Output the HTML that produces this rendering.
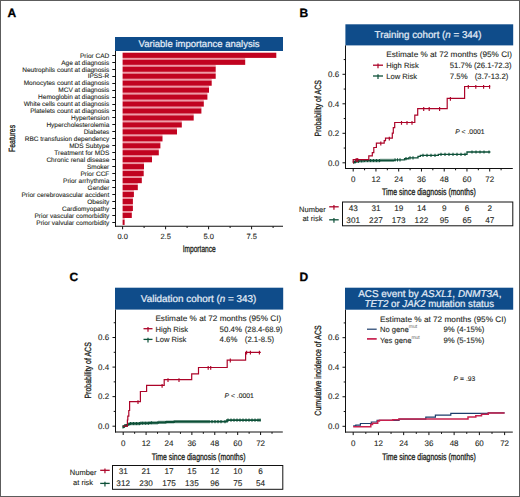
<!DOCTYPE html>
<html><head><meta charset="utf-8"><style>
html,body{margin:0;padding:0;background:#fff;}
body{width:520px;height:497px;overflow:hidden;}
svg{display:block;font-family:"Liberation Sans", sans-serif;text-rendering:geometricPrecision;}
</style></head><body>
<svg width="520" height="497" viewBox="0 0 520 497">
<rect x="0" y="0" width="520" height="497" fill="#fff"/>
<text x="7.50" y="17.10" font-size="12" text-anchor="start" fill="#000" font-weight="bold" stroke="#000" stroke-width="0.3">A</text>
<rect x="115.00" y="37.00" width="168.00" height="14.00" fill="#0f4c8a"/>
<text x="199.05" y="47.30" font-size="9.56" text-anchor="middle" fill="#e4edf8" font-weight="normal" textLength="121.00" lengthAdjust="spacingAndGlyphs" stroke="#e4edf8" stroke-width="0.22">Variable importance analysis</text>
<rect x="122.60" y="57.90" width="122.60" height="1.76" fill="#ef9aa6"/>
<rect x="122.60" y="64.86" width="93.10" height="1.76" fill="#ef9aa6"/>
<rect x="122.60" y="71.82" width="93.10" height="1.76" fill="#ef9aa6"/>
<rect x="122.60" y="78.78" width="89.10" height="1.76" fill="#ef9aa6"/>
<rect x="122.60" y="85.74" width="86.40" height="1.76" fill="#ef9aa6"/>
<rect x="122.60" y="92.70" width="84.80" height="1.76" fill="#ef9aa6"/>
<rect x="122.60" y="99.66" width="81.20" height="1.76" fill="#ef9aa6"/>
<rect x="122.60" y="106.62" width="78.80" height="1.76" fill="#ef9aa6"/>
<rect x="122.60" y="113.58" width="71.10" height="1.76" fill="#ef9aa6"/>
<rect x="122.60" y="120.54" width="59.20" height="1.76" fill="#ef9aa6"/>
<rect x="122.60" y="127.50" width="54.40" height="1.76" fill="#ef9aa6"/>
<rect x="122.60" y="134.46" width="39.90" height="1.76" fill="#ef9aa6"/>
<rect x="122.60" y="141.42" width="37.80" height="1.76" fill="#ef9aa6"/>
<rect x="122.60" y="148.38" width="36.20" height="1.76" fill="#ef9aa6"/>
<rect x="122.60" y="155.34" width="29.40" height="1.76" fill="#ef9aa6"/>
<rect x="122.60" y="162.30" width="21.40" height="1.76" fill="#ef9aa6"/>
<rect x="122.60" y="169.26" width="21.10" height="1.76" fill="#ef9aa6"/>
<rect x="122.60" y="176.22" width="19.20" height="1.76" fill="#ef9aa6"/>
<rect x="122.60" y="183.18" width="15.20" height="1.76" fill="#ef9aa6"/>
<rect x="122.60" y="190.14" width="11.30" height="1.76" fill="#ef9aa6"/>
<rect x="122.60" y="197.10" width="10.30" height="1.76" fill="#ef9aa6"/>
<rect x="122.60" y="204.06" width="10.30" height="1.76" fill="#ef9aa6"/>
<rect x="122.60" y="211.02" width="9.20" height="1.76" fill="#ef9aa6"/>
<rect x="122.60" y="217.98" width="2.00" height="1.76" fill="#ef9aa6"/>
<rect x="122.60" y="52.70" width="153.70" height="5.20" fill="#c10320"/>
<line x1="112.30" y1="55.50" x2="115.50" y2="55.50" stroke="#111" stroke-width="1.0"/>
<text x="109.30" y="57.60" font-size="6.5" text-anchor="end" fill="#231f20" font-weight="normal" stroke="#231f20" stroke-width="0.1" >Prior CAD</text>
<rect x="122.60" y="59.66" width="122.60" height="5.20" fill="#c10320"/>
<line x1="112.30" y1="62.50" x2="115.50" y2="62.50" stroke="#111" stroke-width="1.0"/>
<text x="109.30" y="64.56" font-size="6.5" text-anchor="end" fill="#231f20" font-weight="normal" stroke="#231f20" stroke-width="0.1" >Age at diagnosis</text>
<rect x="122.60" y="66.62" width="93.10" height="5.20" fill="#c10320"/>
<line x1="112.30" y1="69.50" x2="115.50" y2="69.50" stroke="#111" stroke-width="1.0"/>
<text x="109.30" y="71.52" font-size="6.5" text-anchor="end" fill="#231f20" font-weight="normal" stroke="#231f20" stroke-width="0.1" >Neutrophils count at diagnosis</text>
<rect x="122.60" y="73.58" width="93.10" height="5.20" fill="#c10320"/>
<line x1="112.30" y1="76.50" x2="115.50" y2="76.50" stroke="#111" stroke-width="1.0"/>
<text x="109.30" y="78.48" font-size="6.5" text-anchor="end" fill="#231f20" font-weight="normal" stroke="#231f20" stroke-width="0.1" >IPSS-R</text>
<rect x="122.60" y="80.54" width="89.10" height="5.20" fill="#c10320"/>
<line x1="112.30" y1="83.50" x2="115.50" y2="83.50" stroke="#111" stroke-width="1.0"/>
<text x="109.30" y="85.44" font-size="6.5" text-anchor="end" fill="#231f20" font-weight="normal" stroke="#231f20" stroke-width="0.1" >Monocytes count at diagnosis</text>
<rect x="122.60" y="87.50" width="86.40" height="5.20" fill="#c10320"/>
<line x1="112.30" y1="90.50" x2="115.50" y2="90.50" stroke="#111" stroke-width="1.0"/>
<text x="109.30" y="92.40" font-size="6.5" text-anchor="end" fill="#231f20" font-weight="normal" stroke="#231f20" stroke-width="0.1" >MCV at diagnosis</text>
<rect x="122.60" y="94.46" width="84.80" height="5.20" fill="#c10320"/>
<line x1="112.30" y1="97.50" x2="115.50" y2="97.50" stroke="#111" stroke-width="1.0"/>
<text x="109.30" y="99.36" font-size="6.5" text-anchor="end" fill="#231f20" font-weight="normal" stroke="#231f20" stroke-width="0.1" >Hemoglobin at diagnosis</text>
<rect x="122.60" y="101.42" width="81.20" height="5.20" fill="#c10320"/>
<line x1="112.30" y1="104.50" x2="115.50" y2="104.50" stroke="#111" stroke-width="1.0"/>
<text x="109.30" y="106.32" font-size="6.5" text-anchor="end" fill="#231f20" font-weight="normal" stroke="#231f20" stroke-width="0.1" >White cells count at diagnosis</text>
<rect x="122.60" y="108.38" width="78.80" height="5.20" fill="#c10320"/>
<line x1="112.30" y1="110.50" x2="115.50" y2="110.50" stroke="#111" stroke-width="1.0"/>
<text x="109.30" y="113.28" font-size="6.5" text-anchor="end" fill="#231f20" font-weight="normal" stroke="#231f20" stroke-width="0.1" >Platelets count at diagnosis</text>
<rect x="122.60" y="115.34" width="71.10" height="5.20" fill="#c10320"/>
<line x1="112.30" y1="117.50" x2="115.50" y2="117.50" stroke="#111" stroke-width="1.0"/>
<text x="109.30" y="120.24" font-size="6.5" text-anchor="end" fill="#231f20" font-weight="normal" stroke="#231f20" stroke-width="0.1" >Hypertension</text>
<rect x="122.60" y="122.30" width="59.20" height="5.20" fill="#c10320"/>
<line x1="112.30" y1="124.50" x2="115.50" y2="124.50" stroke="#111" stroke-width="1.0"/>
<text x="109.30" y="127.20" font-size="6.5" text-anchor="end" fill="#231f20" font-weight="normal" stroke="#231f20" stroke-width="0.1" >Hypercholesterolemia</text>
<rect x="122.60" y="129.26" width="54.40" height="5.20" fill="#c10320"/>
<line x1="112.30" y1="131.50" x2="115.50" y2="131.50" stroke="#111" stroke-width="1.0"/>
<text x="109.30" y="134.16" font-size="6.5" text-anchor="end" fill="#231f20" font-weight="normal" stroke="#231f20" stroke-width="0.1" >Diabetes</text>
<rect x="122.60" y="136.22" width="39.90" height="5.20" fill="#c10320"/>
<line x1="112.30" y1="138.50" x2="115.50" y2="138.50" stroke="#111" stroke-width="1.0"/>
<text x="109.30" y="141.12" font-size="6.5" text-anchor="end" fill="#231f20" font-weight="normal" stroke="#231f20" stroke-width="0.1" >RBC transfusion dependency</text>
<rect x="122.60" y="143.18" width="37.80" height="5.20" fill="#c10320"/>
<line x1="112.30" y1="145.50" x2="115.50" y2="145.50" stroke="#111" stroke-width="1.0"/>
<text x="109.30" y="148.08" font-size="6.5" text-anchor="end" fill="#231f20" font-weight="normal" stroke="#231f20" stroke-width="0.1" >MDS Subtype</text>
<rect x="122.60" y="150.14" width="36.20" height="5.20" fill="#c10320"/>
<line x1="112.30" y1="152.50" x2="115.50" y2="152.50" stroke="#111" stroke-width="1.0"/>
<text x="109.30" y="155.04" font-size="6.5" text-anchor="end" fill="#231f20" font-weight="normal" stroke="#231f20" stroke-width="0.1" >Treatment for MDS</text>
<rect x="122.60" y="157.10" width="29.40" height="5.20" fill="#c10320"/>
<line x1="112.30" y1="159.50" x2="115.50" y2="159.50" stroke="#111" stroke-width="1.0"/>
<text x="109.30" y="162.00" font-size="6.5" text-anchor="end" fill="#231f20" font-weight="normal" stroke="#231f20" stroke-width="0.1" >Chronic renal disease</text>
<rect x="122.60" y="164.06" width="21.40" height="5.20" fill="#c10320"/>
<line x1="112.30" y1="166.50" x2="115.50" y2="166.50" stroke="#111" stroke-width="1.0"/>
<text x="109.30" y="168.96" font-size="6.5" text-anchor="end" fill="#231f20" font-weight="normal" stroke="#231f20" stroke-width="0.1" >Smoker</text>
<rect x="122.60" y="171.02" width="21.10" height="5.20" fill="#c10320"/>
<line x1="112.30" y1="173.50" x2="115.50" y2="173.50" stroke="#111" stroke-width="1.0"/>
<text x="109.30" y="175.92" font-size="6.5" text-anchor="end" fill="#231f20" font-weight="normal" stroke="#231f20" stroke-width="0.1" >Prior CCF</text>
<rect x="122.60" y="177.98" width="19.20" height="5.20" fill="#c10320"/>
<line x1="112.30" y1="180.50" x2="115.50" y2="180.50" stroke="#111" stroke-width="1.0"/>
<text x="109.30" y="182.88" font-size="6.5" text-anchor="end" fill="#231f20" font-weight="normal" stroke="#231f20" stroke-width="0.1" >Prior arrhythmia</text>
<rect x="122.60" y="184.94" width="15.20" height="5.20" fill="#c10320"/>
<line x1="112.30" y1="187.50" x2="115.50" y2="187.50" stroke="#111" stroke-width="1.0"/>
<text x="109.30" y="189.84" font-size="6.5" text-anchor="end" fill="#231f20" font-weight="normal" stroke="#231f20" stroke-width="0.1" >Gender</text>
<rect x="122.60" y="191.90" width="11.30" height="5.20" fill="#c10320"/>
<line x1="112.30" y1="194.50" x2="115.50" y2="194.50" stroke="#111" stroke-width="1.0"/>
<text x="109.30" y="196.80" font-size="6.5" text-anchor="end" fill="#231f20" font-weight="normal" stroke="#231f20" stroke-width="0.1" >Prior cerebrovascular accident</text>
<rect x="122.60" y="198.86" width="10.30" height="5.20" fill="#c10320"/>
<line x1="112.30" y1="201.50" x2="115.50" y2="201.50" stroke="#111" stroke-width="1.0"/>
<text x="109.30" y="203.76" font-size="6.5" text-anchor="end" fill="#231f20" font-weight="normal" stroke="#231f20" stroke-width="0.1" >Obesity</text>
<rect x="122.60" y="205.82" width="10.30" height="5.20" fill="#c10320"/>
<line x1="112.30" y1="208.50" x2="115.50" y2="208.50" stroke="#111" stroke-width="1.0"/>
<text x="109.30" y="210.72" font-size="6.5" text-anchor="end" fill="#231f20" font-weight="normal" stroke="#231f20" stroke-width="0.1" >Cardiomyopathy</text>
<rect x="122.60" y="212.78" width="9.20" height="5.20" fill="#c10320"/>
<line x1="112.30" y1="215.50" x2="115.50" y2="215.50" stroke="#111" stroke-width="1.0"/>
<text x="109.30" y="217.68" font-size="6.5" text-anchor="end" fill="#231f20" font-weight="normal" stroke="#231f20" stroke-width="0.1" >Prior vascular comorbidity</text>
<rect x="122.60" y="219.74" width="2.00" height="5.20" fill="#c10320"/>
<line x1="112.30" y1="222.50" x2="115.50" y2="222.50" stroke="#111" stroke-width="1.0"/>
<text x="109.30" y="224.64" font-size="6.5" text-anchor="end" fill="#231f20" font-weight="normal" stroke="#231f20" stroke-width="0.1" >Prior valvular comorbidity</text>
<line x1="115.50" y1="51.00" x2="115.50" y2="226.80" stroke="#111" stroke-width="1.0"/>
<line x1="115.00" y1="226.30" x2="283.00" y2="226.30" stroke="#111" stroke-width="1.05"/>
<line x1="122.60" y1="226.30" x2="122.60" y2="229.30" stroke="#111" stroke-width="1.0"/>
<text x="122.60" y="238.70" font-size="7.5" text-anchor="middle" fill="#231f20" font-weight="normal" stroke="#231f20" stroke-width="0.1" >0.0</text>
<line x1="165.60" y1="226.30" x2="165.60" y2="229.30" stroke="#111" stroke-width="1.0"/>
<text x="165.60" y="238.70" font-size="7.5" text-anchor="middle" fill="#231f20" font-weight="normal" stroke="#231f20" stroke-width="0.1" >2.5</text>
<line x1="208.60" y1="226.30" x2="208.60" y2="229.30" stroke="#111" stroke-width="1.0"/>
<text x="208.60" y="238.70" font-size="7.5" text-anchor="middle" fill="#231f20" font-weight="normal" stroke="#231f20" stroke-width="0.1" >5.0</text>
<line x1="251.60" y1="226.30" x2="251.60" y2="229.30" stroke="#111" stroke-width="1.0"/>
<text x="251.60" y="238.70" font-size="7.5" text-anchor="middle" fill="#231f20" font-weight="normal" stroke="#231f20" stroke-width="0.1" >7.5</text>
<line x1="144.10" y1="226.30" x2="144.10" y2="228.00" stroke="#111" stroke-width="1.0"/>
<line x1="187.10" y1="226.30" x2="187.10" y2="228.00" stroke="#111" stroke-width="1.0"/>
<line x1="230.10" y1="226.30" x2="230.10" y2="228.00" stroke="#111" stroke-width="1.0"/>
<line x1="273.10" y1="226.30" x2="273.10" y2="228.00" stroke="#111" stroke-width="1.0"/>
<text transform="translate(199.20,251.70) scale(0.69,1)" font-size="9.6" text-anchor="middle" fill="#231f20" stroke="#231f20" stroke-width="0.32">Importance</text>
<text transform="translate(15.30,138.40) rotate(-90) scale(0.76,1)" font-size="9.0" text-anchor="middle" fill="#231f20" stroke="#231f20" stroke-width="0.32">Features</text>
<text x="299.60" y="17.10" font-size="12" text-anchor="start" fill="#000" font-weight="bold" stroke="#000" stroke-width="0.3">B</text>
<rect x="345.40" y="24.30" width="167.80" height="21.10" fill="#0f4c8a"/>
<line x1="345.50" y1="45.40" x2="345.50" y2="169.00" stroke="#111" stroke-width="1.0"/>
<line x1="345.00" y1="168.50" x2="512.80" y2="168.50" stroke="#111" stroke-width="1.0"/>
<line x1="342.50" y1="162.80" x2="345.50" y2="162.80" stroke="#111" stroke-width="1.0"/>
<text x="339.20" y="165.50" font-size="8.0" text-anchor="end" fill="#231f20" font-weight="normal" stroke="#231f20" stroke-width="0.1" >0.0</text>
<line x1="342.50" y1="133.30" x2="345.50" y2="133.30" stroke="#111" stroke-width="1.0"/>
<text x="339.20" y="136.00" font-size="8.0" text-anchor="end" fill="#231f20" font-weight="normal" stroke="#231f20" stroke-width="0.1" >0.2</text>
<line x1="342.50" y1="103.80" x2="345.50" y2="103.80" stroke="#111" stroke-width="1.0"/>
<text x="339.20" y="106.50" font-size="8.0" text-anchor="end" fill="#231f20" font-weight="normal" stroke="#231f20" stroke-width="0.1" >0.4</text>
<line x1="342.50" y1="74.30" x2="345.50" y2="74.30" stroke="#111" stroke-width="1.0"/>
<text x="339.20" y="77.00" font-size="8.0" text-anchor="end" fill="#231f20" font-weight="normal" stroke="#231f20" stroke-width="0.1" >0.6</text>
<line x1="343.70" y1="148.05" x2="345.50" y2="148.05" stroke="#111" stroke-width="1.0"/>
<line x1="343.70" y1="118.55" x2="345.50" y2="118.55" stroke="#111" stroke-width="1.0"/>
<line x1="343.70" y1="89.05" x2="345.50" y2="89.05" stroke="#111" stroke-width="1.0"/>
<line x1="343.70" y1="59.55" x2="345.50" y2="59.55" stroke="#111" stroke-width="1.0"/>
<line x1="353.20" y1="168.50" x2="353.20" y2="171.50" stroke="#111" stroke-width="1.0"/>
<text x="353.20" y="182.30" font-size="8.0" text-anchor="middle" fill="#231f20" font-weight="normal" stroke="#231f20" stroke-width="0.1" >0</text>
<line x1="375.95" y1="168.50" x2="375.95" y2="171.50" stroke="#111" stroke-width="1.0"/>
<text x="375.95" y="182.30" font-size="8.0" text-anchor="middle" fill="#231f20" font-weight="normal" stroke="#231f20" stroke-width="0.1" >12</text>
<line x1="398.70" y1="168.50" x2="398.70" y2="171.50" stroke="#111" stroke-width="1.0"/>
<text x="398.70" y="182.30" font-size="8.0" text-anchor="middle" fill="#231f20" font-weight="normal" stroke="#231f20" stroke-width="0.1" >24</text>
<line x1="421.46" y1="168.50" x2="421.46" y2="171.50" stroke="#111" stroke-width="1.0"/>
<text x="421.46" y="182.30" font-size="8.0" text-anchor="middle" fill="#231f20" font-weight="normal" stroke="#231f20" stroke-width="0.1" >36</text>
<line x1="444.21" y1="168.50" x2="444.21" y2="171.50" stroke="#111" stroke-width="1.0"/>
<text x="444.21" y="182.30" font-size="8.0" text-anchor="middle" fill="#231f20" font-weight="normal" stroke="#231f20" stroke-width="0.1" >48</text>
<line x1="466.96" y1="168.50" x2="466.96" y2="171.50" stroke="#111" stroke-width="1.0"/>
<text x="466.96" y="182.30" font-size="8.0" text-anchor="middle" fill="#231f20" font-weight="normal" stroke="#231f20" stroke-width="0.1" >60</text>
<line x1="489.71" y1="168.50" x2="489.71" y2="171.50" stroke="#111" stroke-width="1.0"/>
<text x="489.71" y="182.30" font-size="8.0" text-anchor="middle" fill="#231f20" font-weight="normal" stroke="#231f20" stroke-width="0.1" >72</text>
<line x1="364.58" y1="168.50" x2="364.58" y2="170.30" stroke="#111" stroke-width="1.0"/>
<line x1="387.33" y1="168.50" x2="387.33" y2="170.30" stroke="#111" stroke-width="1.0"/>
<line x1="410.08" y1="168.50" x2="410.08" y2="170.30" stroke="#111" stroke-width="1.0"/>
<line x1="432.83" y1="168.50" x2="432.83" y2="170.30" stroke="#111" stroke-width="1.0"/>
<line x1="455.58" y1="168.50" x2="455.58" y2="170.30" stroke="#111" stroke-width="1.0"/>
<line x1="478.34" y1="168.50" x2="478.34" y2="170.30" stroke="#111" stroke-width="1.0"/>
<line x1="501.09" y1="168.50" x2="501.09" y2="170.30" stroke="#111" stroke-width="1.0"/>
<text transform="translate(320.80,108.30) rotate(-90) scale(0.778,1)" font-size="9.0" text-anchor="middle" fill="#231f20" stroke="#231f20" stroke-width="0.32">Probability of ACS</text>
<text transform="translate(428.90,195.40) scale(0.722,1)" font-size="9.6" text-anchor="middle" fill="#231f20" stroke="#231f20" stroke-width="0.32">Time since diagnosis (months)</text>
<text x="428.00" y="38.30" font-size="9.9" text-anchor="middle" fill="#e4edf8" font-weight="normal" textLength="106.90" lengthAdjust="spacingAndGlyphs" stroke="#e4edf8" stroke-width="0.22">Training cohort (<tspan font-style="italic">n</tspan> = 344)</text>
<text x="386.30" y="57.00" font-size="8.0" text-anchor="start" fill="#231f20" font-weight="normal" stroke="#231f20" stroke-width="0.1" textLength="125.80" lengthAdjust="spacingAndGlyphs" >Estimate % at 72 months (95% CI)</text>
<text x="386.20" y="68.30" font-size="7.6" text-anchor="start" fill="#231f20" font-weight="normal" stroke="#231f20" stroke-width="0.1" >High Risk</text>
<text x="449.80" y="68.30" font-size="7.8" text-anchor="start" fill="#231f20" font-weight="normal" stroke="#231f20" stroke-width="0.1" textLength="22.00" lengthAdjust="spacingAndGlyphs" >51.7%</text>
<text x="474.00" y="68.30" font-size="7.8" text-anchor="start" fill="#231f20" font-weight="normal" stroke="#231f20" stroke-width="0.1" textLength="37.60" lengthAdjust="spacingAndGlyphs" >(26.1-72.3)</text>
<text x="386.20" y="78.80" font-size="7.6" text-anchor="start" fill="#231f20" font-weight="normal" stroke="#231f20" stroke-width="0.1" >Low Risk</text>
<text x="449.80" y="78.80" font-size="7.8" text-anchor="start" fill="#231f20" font-weight="normal" stroke="#231f20" stroke-width="0.1" >7.5%</text>
<text x="474.80" y="78.80" font-size="7.8" text-anchor="start" fill="#231f20" font-weight="normal" stroke="#231f20" stroke-width="0.1" textLength="33.50" lengthAdjust="spacingAndGlyphs" >(3.7-13.2)</text>
<line x1="373.00" y1="65.20" x2="383.00" y2="65.20" stroke="#ac0429" stroke-width="1.3"/>
<line x1="378.00" y1="63.50" x2="378.00" y2="68.20" stroke="#ac0429" stroke-width="1.2"/>
<line x1="373.00" y1="76.00" x2="383.00" y2="76.00" stroke="#0d5038" stroke-width="1.3"/>
<line x1="378.00" y1="74.30" x2="378.00" y2="79.00" stroke="#0d5038" stroke-width="1.2"/>
<text x="455.20" y="133.60" font-size="6.8" text-anchor="start" fill="#231f20" font-weight="normal" stroke="#231f20" stroke-width="0.1" ><tspan font-style="italic">P</tspan> &lt; .0001</text>
<path d="M353.00,162.60 H353.40 V162.20 H354.50 V161.70 H356.00 V161.30 H359.00 V160.90 H364.00 V160.60 H380.00 V160.30 H395.00 V159.90 H404.60 V158.70 H408.50 V157.90 H418.00 V156.30 H420.40 V155.40 H438.30 V154.40 H467.00 V152.00 H490.40" fill="none" stroke="#0d5038" stroke-width="1.35" stroke-linejoin="miter"/>
<line x1="354.00" y1="160.60" x2="354.00" y2="163.80" stroke="#0d5038" stroke-width="1.1"/>
<line x1="355.50" y1="160.10" x2="355.50" y2="163.30" stroke="#0d5038" stroke-width="1.1"/>
<line x1="357.00" y1="159.70" x2="357.00" y2="162.90" stroke="#0d5038" stroke-width="1.1"/>
<line x1="358.50" y1="159.70" x2="358.50" y2="162.90" stroke="#0d5038" stroke-width="1.1"/>
<line x1="360.00" y1="159.30" x2="360.00" y2="162.50" stroke="#0d5038" stroke-width="1.1"/>
<line x1="361.50" y1="159.30" x2="361.50" y2="162.50" stroke="#0d5038" stroke-width="1.1"/>
<line x1="363.00" y1="159.30" x2="363.00" y2="162.50" stroke="#0d5038" stroke-width="1.1"/>
<line x1="364.50" y1="159.00" x2="364.50" y2="162.20" stroke="#0d5038" stroke-width="1.1"/>
<line x1="366.00" y1="159.00" x2="366.00" y2="162.20" stroke="#0d5038" stroke-width="1.1"/>
<line x1="367.50" y1="159.00" x2="367.50" y2="162.20" stroke="#0d5038" stroke-width="1.1"/>
<line x1="369.00" y1="159.00" x2="369.00" y2="162.20" stroke="#0d5038" stroke-width="1.1"/>
<line x1="370.50" y1="159.00" x2="370.50" y2="162.20" stroke="#0d5038" stroke-width="1.1"/>
<line x1="372.00" y1="159.00" x2="372.00" y2="162.20" stroke="#0d5038" stroke-width="1.1"/>
<line x1="373.50" y1="159.00" x2="373.50" y2="162.20" stroke="#0d5038" stroke-width="1.1"/>
<line x1="375.00" y1="159.00" x2="375.00" y2="162.20" stroke="#0d5038" stroke-width="1.1"/>
<line x1="376.50" y1="159.00" x2="376.50" y2="162.20" stroke="#0d5038" stroke-width="1.1"/>
<line x1="378.00" y1="159.00" x2="378.00" y2="162.20" stroke="#0d5038" stroke-width="1.1"/>
<line x1="379.50" y1="159.00" x2="379.50" y2="162.20" stroke="#0d5038" stroke-width="1.1"/>
<line x1="381.00" y1="158.70" x2="381.00" y2="161.90" stroke="#0d5038" stroke-width="1.1"/>
<line x1="383.00" y1="158.70" x2="383.00" y2="161.90" stroke="#0d5038" stroke-width="1.1"/>
<line x1="385.00" y1="158.70" x2="385.00" y2="161.90" stroke="#0d5038" stroke-width="1.1"/>
<line x1="387.00" y1="158.70" x2="387.00" y2="161.90" stroke="#0d5038" stroke-width="1.1"/>
<line x1="389.00" y1="158.70" x2="389.00" y2="161.90" stroke="#0d5038" stroke-width="1.1"/>
<line x1="391.00" y1="158.70" x2="391.00" y2="161.90" stroke="#0d5038" stroke-width="1.1"/>
<line x1="393.00" y1="158.70" x2="393.00" y2="161.90" stroke="#0d5038" stroke-width="1.1"/>
<line x1="395.00" y1="158.30" x2="395.00" y2="161.50" stroke="#0d5038" stroke-width="1.1"/>
<line x1="397.50" y1="158.30" x2="397.50" y2="161.50" stroke="#0d5038" stroke-width="1.1"/>
<line x1="400.00" y1="158.30" x2="400.00" y2="161.50" stroke="#0d5038" stroke-width="1.1"/>
<line x1="406.00" y1="157.10" x2="406.00" y2="160.30" stroke="#0d5038" stroke-width="1.1"/>
<line x1="410.00" y1="156.30" x2="410.00" y2="159.50" stroke="#0d5038" stroke-width="1.1"/>
<line x1="413.00" y1="156.30" x2="413.00" y2="159.50" stroke="#0d5038" stroke-width="1.1"/>
<line x1="423.00" y1="153.80" x2="423.00" y2="157.00" stroke="#0d5038" stroke-width="1.1"/>
<line x1="427.00" y1="153.80" x2="427.00" y2="157.00" stroke="#0d5038" stroke-width="1.1"/>
<line x1="431.00" y1="153.80" x2="431.00" y2="157.00" stroke="#0d5038" stroke-width="1.1"/>
<line x1="435.00" y1="153.80" x2="435.00" y2="157.00" stroke="#0d5038" stroke-width="1.1"/>
<line x1="441.00" y1="152.80" x2="441.00" y2="156.00" stroke="#0d5038" stroke-width="1.1"/>
<line x1="445.00" y1="152.80" x2="445.00" y2="156.00" stroke="#0d5038" stroke-width="1.1"/>
<line x1="449.00" y1="152.80" x2="449.00" y2="156.00" stroke="#0d5038" stroke-width="1.1"/>
<line x1="453.00" y1="152.80" x2="453.00" y2="156.00" stroke="#0d5038" stroke-width="1.1"/>
<line x1="457.00" y1="152.80" x2="457.00" y2="156.00" stroke="#0d5038" stroke-width="1.1"/>
<line x1="461.00" y1="152.80" x2="461.00" y2="156.00" stroke="#0d5038" stroke-width="1.1"/>
<line x1="465.00" y1="152.80" x2="465.00" y2="156.00" stroke="#0d5038" stroke-width="1.1"/>
<line x1="472.00" y1="150.40" x2="472.00" y2="153.60" stroke="#0d5038" stroke-width="1.1"/>
<line x1="476.00" y1="150.40" x2="476.00" y2="153.60" stroke="#0d5038" stroke-width="1.1"/>
<line x1="480.00" y1="150.40" x2="480.00" y2="153.60" stroke="#0d5038" stroke-width="1.1"/>
<line x1="484.00" y1="150.40" x2="484.00" y2="153.60" stroke="#0d5038" stroke-width="1.1"/>
<line x1="489.00" y1="150.40" x2="489.00" y2="153.60" stroke="#0d5038" stroke-width="1.1"/>
<path d="M353.00,162.80 H353.20 V159.60 H368.80 V155.80 H372.30 V152.60 H373.80 V147.50 H376.40 V143.10 H384.20 V140.60 H385.50 V138.20 H392.30 V133.10 H393.30 V127.70 H394.70 V122.50 H414.80 V115.20 H417.70 V108.60 H447.20 V98.40 H464.60 V86.50 H490.20" fill="none" stroke="#ac0429" stroke-width="1.2" stroke-linejoin="miter"/>
<line x1="356.20" y1="158.10" x2="356.20" y2="161.90" stroke="#ac0429" stroke-width="1.15"/>
<line x1="357.70" y1="158.10" x2="357.70" y2="161.90" stroke="#ac0429" stroke-width="1.15"/>
<line x1="380.80" y1="141.60" x2="380.80" y2="145.40" stroke="#ac0429" stroke-width="1.15"/>
<line x1="389.30" y1="136.70" x2="389.30" y2="140.50" stroke="#ac0429" stroke-width="1.15"/>
<line x1="401.50" y1="121.00" x2="401.50" y2="124.80" stroke="#ac0429" stroke-width="1.15"/>
<line x1="407.00" y1="121.00" x2="407.00" y2="124.80" stroke="#ac0429" stroke-width="1.15"/>
<line x1="412.00" y1="121.00" x2="412.00" y2="124.80" stroke="#ac0429" stroke-width="1.15"/>
<line x1="423.70" y1="107.10" x2="423.70" y2="110.90" stroke="#ac0429" stroke-width="1.15"/>
<line x1="429.20" y1="107.10" x2="429.20" y2="110.90" stroke="#ac0429" stroke-width="1.15"/>
<line x1="439.60" y1="107.10" x2="439.60" y2="110.90" stroke="#ac0429" stroke-width="1.15"/>
<line x1="450.40" y1="96.90" x2="450.40" y2="100.70" stroke="#ac0429" stroke-width="1.15"/>
<line x1="468.30" y1="85.00" x2="468.30" y2="88.80" stroke="#ac0429" stroke-width="1.15"/>
<line x1="475.80" y1="85.00" x2="475.80" y2="88.80" stroke="#ac0429" stroke-width="1.15"/>
<line x1="483.60" y1="85.00" x2="483.60" y2="88.80" stroke="#ac0429" stroke-width="1.15"/>
<line x1="489.60" y1="85.00" x2="489.60" y2="88.80" stroke="#ac0429" stroke-width="1.15"/>
<rect x="342.5" y="202.0" width="170.3" height="23.8" fill="none" stroke="#111" stroke-width="1"/>
<text x="325.80" y="211.80" font-size="7.5" text-anchor="end" fill="#231f20" font-weight="normal" stroke="#231f20" stroke-width="0.1" >Number</text>
<text x="322.40" y="221.30" font-size="7.5" text-anchor="end" fill="#231f20" font-weight="normal" stroke="#231f20" stroke-width="0.1" >at risk</text>
<line x1="329.20" y1="206.80" x2="338.70" y2="206.80" stroke="#ac0429" stroke-width="1.3"/>
<line x1="333.95" y1="205.10" x2="333.95" y2="209.80" stroke="#ac0429" stroke-width="1.2"/>
<line x1="329.20" y1="219.80" x2="338.70" y2="219.80" stroke="#0d5038" stroke-width="1.3"/>
<line x1="333.95" y1="218.10" x2="333.95" y2="222.80" stroke="#0d5038" stroke-width="1.2"/>
<text x="353.20" y="211.00" font-size="8.2" text-anchor="middle" fill="#231f20" font-weight="normal" stroke="#231f20" stroke-width="0.1" >43</text>
<text x="353.20" y="223.30" font-size="8.2" text-anchor="middle" fill="#231f20" font-weight="normal" stroke="#231f20" stroke-width="0.1" >301</text>
<text x="375.95" y="211.00" font-size="8.2" text-anchor="middle" fill="#231f20" font-weight="normal" stroke="#231f20" stroke-width="0.1" >31</text>
<text x="375.95" y="223.30" font-size="8.2" text-anchor="middle" fill="#231f20" font-weight="normal" stroke="#231f20" stroke-width="0.1" >227</text>
<text x="398.70" y="211.00" font-size="8.2" text-anchor="middle" fill="#231f20" font-weight="normal" stroke="#231f20" stroke-width="0.1" >19</text>
<text x="398.70" y="223.30" font-size="8.2" text-anchor="middle" fill="#231f20" font-weight="normal" stroke="#231f20" stroke-width="0.1" >173</text>
<text x="421.46" y="211.00" font-size="8.2" text-anchor="middle" fill="#231f20" font-weight="normal" stroke="#231f20" stroke-width="0.1" >14</text>
<text x="421.46" y="223.30" font-size="8.2" text-anchor="middle" fill="#231f20" font-weight="normal" stroke="#231f20" stroke-width="0.1" >122</text>
<text x="444.21" y="211.00" font-size="8.2" text-anchor="middle" fill="#231f20" font-weight="normal" stroke="#231f20" stroke-width="0.1" >9</text>
<text x="444.21" y="223.30" font-size="8.2" text-anchor="middle" fill="#231f20" font-weight="normal" stroke="#231f20" stroke-width="0.1" >95</text>
<text x="466.96" y="211.00" font-size="8.2" text-anchor="middle" fill="#231f20" font-weight="normal" stroke="#231f20" stroke-width="0.1" >6</text>
<text x="466.96" y="223.30" font-size="8.2" text-anchor="middle" fill="#231f20" font-weight="normal" stroke="#231f20" stroke-width="0.1" >65</text>
<text x="489.71" y="211.00" font-size="8.2" text-anchor="middle" fill="#231f20" font-weight="normal" stroke="#231f20" stroke-width="0.1" >2</text>
<text x="489.71" y="223.30" font-size="8.2" text-anchor="middle" fill="#231f20" font-weight="normal" stroke="#231f20" stroke-width="0.1" >47</text>
<text x="69.40" y="280.60" font-size="12" text-anchor="start" fill="#000" font-weight="bold" stroke="#000" stroke-width="0.3">C</text>
<rect x="115.00" y="287.70" width="168.20" height="21.90" fill="#0f4c8a"/>
<line x1="115.50" y1="309.60" x2="115.50" y2="432.50" stroke="#111" stroke-width="1.0"/>
<line x1="115.00" y1="432.00" x2="282.80" y2="432.00" stroke="#111" stroke-width="1.0"/>
<line x1="112.50" y1="426.20" x2="115.50" y2="426.20" stroke="#111" stroke-width="1.0"/>
<text x="109.20" y="428.90" font-size="8.0" text-anchor="end" fill="#231f20" font-weight="normal" stroke="#231f20" stroke-width="0.1" >0.0</text>
<line x1="112.50" y1="396.64" x2="115.50" y2="396.64" stroke="#111" stroke-width="1.0"/>
<text x="109.20" y="399.34" font-size="8.0" text-anchor="end" fill="#231f20" font-weight="normal" stroke="#231f20" stroke-width="0.1" >0.2</text>
<line x1="112.50" y1="367.08" x2="115.50" y2="367.08" stroke="#111" stroke-width="1.0"/>
<text x="109.20" y="369.78" font-size="8.0" text-anchor="end" fill="#231f20" font-weight="normal" stroke="#231f20" stroke-width="0.1" >0.4</text>
<line x1="112.50" y1="337.52" x2="115.50" y2="337.52" stroke="#111" stroke-width="1.0"/>
<text x="109.20" y="340.22" font-size="8.0" text-anchor="end" fill="#231f20" font-weight="normal" stroke="#231f20" stroke-width="0.1" >0.6</text>
<line x1="113.70" y1="411.42" x2="115.50" y2="411.42" stroke="#111" stroke-width="1.0"/>
<line x1="113.70" y1="381.86" x2="115.50" y2="381.86" stroke="#111" stroke-width="1.0"/>
<line x1="113.70" y1="352.30" x2="115.50" y2="352.30" stroke="#111" stroke-width="1.0"/>
<line x1="113.70" y1="322.74" x2="115.50" y2="322.74" stroke="#111" stroke-width="1.0"/>
<line x1="123.20" y1="432.00" x2="123.20" y2="435.00" stroke="#111" stroke-width="1.0"/>
<text x="123.20" y="446.00" font-size="8.0" text-anchor="middle" fill="#231f20" font-weight="normal" stroke="#231f20" stroke-width="0.1" >0</text>
<line x1="146.10" y1="432.00" x2="146.10" y2="435.00" stroke="#111" stroke-width="1.0"/>
<text x="146.10" y="446.00" font-size="8.0" text-anchor="middle" fill="#231f20" font-weight="normal" stroke="#231f20" stroke-width="0.1" >12</text>
<line x1="168.99" y1="432.00" x2="168.99" y2="435.00" stroke="#111" stroke-width="1.0"/>
<text x="168.99" y="446.00" font-size="8.0" text-anchor="middle" fill="#231f20" font-weight="normal" stroke="#231f20" stroke-width="0.1" >24</text>
<line x1="191.89" y1="432.00" x2="191.89" y2="435.00" stroke="#111" stroke-width="1.0"/>
<text x="191.89" y="446.00" font-size="8.0" text-anchor="middle" fill="#231f20" font-weight="normal" stroke="#231f20" stroke-width="0.1" >36</text>
<line x1="214.78" y1="432.00" x2="214.78" y2="435.00" stroke="#111" stroke-width="1.0"/>
<text x="214.78" y="446.00" font-size="8.0" text-anchor="middle" fill="#231f20" font-weight="normal" stroke="#231f20" stroke-width="0.1" >48</text>
<line x1="237.68" y1="432.00" x2="237.68" y2="435.00" stroke="#111" stroke-width="1.0"/>
<text x="237.68" y="446.00" font-size="8.0" text-anchor="middle" fill="#231f20" font-weight="normal" stroke="#231f20" stroke-width="0.1" >60</text>
<line x1="260.58" y1="432.00" x2="260.58" y2="435.00" stroke="#111" stroke-width="1.0"/>
<text x="260.58" y="446.00" font-size="8.0" text-anchor="middle" fill="#231f20" font-weight="normal" stroke="#231f20" stroke-width="0.1" >72</text>
<line x1="134.65" y1="432.00" x2="134.65" y2="433.80" stroke="#111" stroke-width="1.0"/>
<line x1="157.54" y1="432.00" x2="157.54" y2="433.80" stroke="#111" stroke-width="1.0"/>
<line x1="180.44" y1="432.00" x2="180.44" y2="433.80" stroke="#111" stroke-width="1.0"/>
<line x1="203.34" y1="432.00" x2="203.34" y2="433.80" stroke="#111" stroke-width="1.0"/>
<line x1="226.23" y1="432.00" x2="226.23" y2="433.80" stroke="#111" stroke-width="1.0"/>
<line x1="249.13" y1="432.00" x2="249.13" y2="433.80" stroke="#111" stroke-width="1.0"/>
<line x1="272.02" y1="432.00" x2="272.02" y2="433.80" stroke="#111" stroke-width="1.0"/>
<text transform="translate(91.00,370.40) rotate(-90) scale(0.778,1)" font-size="9.0" text-anchor="middle" fill="#231f20" stroke="#231f20" stroke-width="0.32">Probability of ACS</text>
<text transform="translate(198.60,460.00) scale(0.722,1)" font-size="9.6" text-anchor="middle" fill="#231f20" stroke="#231f20" stroke-width="0.32">Time since diagnosis (months)</text>
<text x="198.55" y="302.20" font-size="9.92" text-anchor="middle" fill="#e4edf8" font-weight="normal" textLength="115.40" lengthAdjust="spacingAndGlyphs" stroke="#e4edf8" stroke-width="0.22">Validation cohort (<tspan font-style="italic">n</tspan> = 343)</text>
<text x="155.40" y="320.60" font-size="8.0" text-anchor="start" fill="#231f20" font-weight="normal" stroke="#231f20" stroke-width="0.1" textLength="125.80" lengthAdjust="spacingAndGlyphs" >Estimate % at 72 months (95% CI)</text>
<text x="155.50" y="331.50" font-size="7.6" text-anchor="start" fill="#231f20" font-weight="normal" stroke="#231f20" stroke-width="0.1" >High Risk</text>
<text x="219.60" y="331.50" font-size="7.8" text-anchor="start" fill="#231f20" font-weight="normal" stroke="#231f20" stroke-width="0.1" textLength="22.40" lengthAdjust="spacingAndGlyphs" >50.4%</text>
<text x="244.80" y="331.50" font-size="7.8" text-anchor="start" fill="#231f20" font-weight="normal" stroke="#231f20" stroke-width="0.1" textLength="37.70" lengthAdjust="spacingAndGlyphs" >(28.4-68.9)</text>
<text x="155.50" y="342.20" font-size="7.6" text-anchor="start" fill="#231f20" font-weight="normal" stroke="#231f20" stroke-width="0.1" >Low Risk</text>
<text x="219.60" y="342.20" font-size="7.8" text-anchor="start" fill="#231f20" font-weight="normal" stroke="#231f20" stroke-width="0.1" >4.6%</text>
<text x="244.80" y="342.20" font-size="7.8" text-anchor="start" fill="#231f20" font-weight="normal" stroke="#231f20" stroke-width="0.1" textLength="29.40" lengthAdjust="spacingAndGlyphs" >(2.1-8.5)</text>
<line x1="143.50" y1="328.70" x2="152.50" y2="328.70" stroke="#ac0429" stroke-width="1.3"/>
<line x1="148.00" y1="327.00" x2="148.00" y2="331.70" stroke="#ac0429" stroke-width="1.2"/>
<line x1="143.50" y1="339.40" x2="152.50" y2="339.40" stroke="#0d5038" stroke-width="1.3"/>
<line x1="148.00" y1="337.70" x2="148.00" y2="342.40" stroke="#0d5038" stroke-width="1.2"/>
<text x="224.50" y="397.80" font-size="6.8" text-anchor="start" fill="#231f20" font-weight="normal" stroke="#231f20" stroke-width="0.1" ><tspan font-style="italic">P</tspan> &lt; .0001</text>
<path d="M122.80,427.00 H123.50 V426.20 H125.00 V425.50 H126.50 V424.80 H128.00 V424.10 H130.00 V423.60 H140.00 V423.20 H150.00 V422.80 H158.00 V422.40 H166.00 V422.00 H174.00 V421.60 H227.00 V420.10 H260.80" fill="none" stroke="#0d5038" stroke-width="1.8" stroke-linejoin="miter"/>
<line x1="123.00" y1="425.40" x2="123.00" y2="428.60" stroke="#0d5038" stroke-width="1.1"/>
<line x1="124.50" y1="424.60" x2="124.50" y2="427.80" stroke="#0d5038" stroke-width="1.1"/>
<line x1="126.00" y1="423.90" x2="126.00" y2="427.10" stroke="#0d5038" stroke-width="1.1"/>
<line x1="127.50" y1="423.20" x2="127.50" y2="426.40" stroke="#0d5038" stroke-width="1.1"/>
<line x1="129.00" y1="422.50" x2="129.00" y2="425.70" stroke="#0d5038" stroke-width="1.1"/>
<line x1="130.50" y1="422.00" x2="130.50" y2="425.20" stroke="#0d5038" stroke-width="1.1"/>
<line x1="132.00" y1="422.00" x2="132.00" y2="425.20" stroke="#0d5038" stroke-width="1.1"/>
<line x1="133.50" y1="422.00" x2="133.50" y2="425.20" stroke="#0d5038" stroke-width="1.1"/>
<line x1="135.00" y1="422.00" x2="135.00" y2="425.20" stroke="#0d5038" stroke-width="1.1"/>
<line x1="136.50" y1="422.00" x2="136.50" y2="425.20" stroke="#0d5038" stroke-width="1.1"/>
<line x1="138.00" y1="422.00" x2="138.00" y2="425.20" stroke="#0d5038" stroke-width="1.1"/>
<line x1="139.50" y1="422.00" x2="139.50" y2="425.20" stroke="#0d5038" stroke-width="1.1"/>
<line x1="141.00" y1="421.60" x2="141.00" y2="424.80" stroke="#0d5038" stroke-width="1.1"/>
<line x1="142.50" y1="421.60" x2="142.50" y2="424.80" stroke="#0d5038" stroke-width="1.1"/>
<line x1="144.00" y1="421.60" x2="144.00" y2="424.80" stroke="#0d5038" stroke-width="1.1"/>
<line x1="145.50" y1="421.60" x2="145.50" y2="424.80" stroke="#0d5038" stroke-width="1.1"/>
<line x1="147.00" y1="421.60" x2="147.00" y2="424.80" stroke="#0d5038" stroke-width="1.1"/>
<line x1="148.50" y1="421.60" x2="148.50" y2="424.80" stroke="#0d5038" stroke-width="1.1"/>
<line x1="150.00" y1="421.20" x2="150.00" y2="424.40" stroke="#0d5038" stroke-width="1.1"/>
<line x1="151.50" y1="421.20" x2="151.50" y2="424.40" stroke="#0d5038" stroke-width="1.1"/>
<line x1="153.00" y1="421.20" x2="153.00" y2="424.40" stroke="#0d5038" stroke-width="1.1"/>
<line x1="155.00" y1="421.20" x2="155.00" y2="424.40" stroke="#0d5038" stroke-width="1.1"/>
<line x1="157.00" y1="421.20" x2="157.00" y2="424.40" stroke="#0d5038" stroke-width="1.1"/>
<line x1="159.00" y1="420.80" x2="159.00" y2="424.00" stroke="#0d5038" stroke-width="1.1"/>
<line x1="161.00" y1="420.80" x2="161.00" y2="424.00" stroke="#0d5038" stroke-width="1.1"/>
<line x1="163.00" y1="420.80" x2="163.00" y2="424.00" stroke="#0d5038" stroke-width="1.1"/>
<line x1="165.00" y1="420.80" x2="165.00" y2="424.00" stroke="#0d5038" stroke-width="1.1"/>
<line x1="167.00" y1="420.40" x2="167.00" y2="423.60" stroke="#0d5038" stroke-width="1.1"/>
<line x1="169.00" y1="420.40" x2="169.00" y2="423.60" stroke="#0d5038" stroke-width="1.1"/>
<line x1="171.00" y1="420.40" x2="171.00" y2="423.60" stroke="#0d5038" stroke-width="1.1"/>
<line x1="173.00" y1="420.40" x2="173.00" y2="423.60" stroke="#0d5038" stroke-width="1.1"/>
<line x1="175.00" y1="420.00" x2="175.00" y2="423.20" stroke="#0d5038" stroke-width="1.1"/>
<line x1="177.00" y1="420.00" x2="177.00" y2="423.20" stroke="#0d5038" stroke-width="1.1"/>
<line x1="179.00" y1="420.00" x2="179.00" y2="423.20" stroke="#0d5038" stroke-width="1.1"/>
<line x1="181.00" y1="420.00" x2="181.00" y2="423.20" stroke="#0d5038" stroke-width="1.1"/>
<line x1="183.00" y1="420.00" x2="183.00" y2="423.20" stroke="#0d5038" stroke-width="1.1"/>
<line x1="185.00" y1="420.00" x2="185.00" y2="423.20" stroke="#0d5038" stroke-width="1.1"/>
<line x1="187.00" y1="420.00" x2="187.00" y2="423.20" stroke="#0d5038" stroke-width="1.1"/>
<line x1="189.00" y1="420.00" x2="189.00" y2="423.20" stroke="#0d5038" stroke-width="1.1"/>
<line x1="191.00" y1="420.00" x2="191.00" y2="423.20" stroke="#0d5038" stroke-width="1.1"/>
<line x1="193.00" y1="420.00" x2="193.00" y2="423.20" stroke="#0d5038" stroke-width="1.1"/>
<line x1="195.00" y1="420.00" x2="195.00" y2="423.20" stroke="#0d5038" stroke-width="1.1"/>
<line x1="197.00" y1="420.00" x2="197.00" y2="423.20" stroke="#0d5038" stroke-width="1.1"/>
<line x1="199.00" y1="420.00" x2="199.00" y2="423.20" stroke="#0d5038" stroke-width="1.1"/>
<line x1="201.00" y1="420.00" x2="201.00" y2="423.20" stroke="#0d5038" stroke-width="1.1"/>
<line x1="203.00" y1="420.00" x2="203.00" y2="423.20" stroke="#0d5038" stroke-width="1.1"/>
<line x1="205.00" y1="420.00" x2="205.00" y2="423.20" stroke="#0d5038" stroke-width="1.1"/>
<line x1="207.00" y1="420.00" x2="207.00" y2="423.20" stroke="#0d5038" stroke-width="1.1"/>
<line x1="209.00" y1="420.00" x2="209.00" y2="423.20" stroke="#0d5038" stroke-width="1.1"/>
<line x1="212.00" y1="420.00" x2="212.00" y2="423.20" stroke="#0d5038" stroke-width="1.1"/>
<line x1="215.00" y1="420.00" x2="215.00" y2="423.20" stroke="#0d5038" stroke-width="1.1"/>
<line x1="218.00" y1="420.00" x2="218.00" y2="423.20" stroke="#0d5038" stroke-width="1.1"/>
<line x1="221.00" y1="420.00" x2="221.00" y2="423.20" stroke="#0d5038" stroke-width="1.1"/>
<line x1="225.00" y1="420.00" x2="225.00" y2="423.20" stroke="#0d5038" stroke-width="1.1"/>
<line x1="228.00" y1="418.50" x2="228.00" y2="421.70" stroke="#0d5038" stroke-width="1.1"/>
<line x1="231.00" y1="418.50" x2="231.00" y2="421.70" stroke="#0d5038" stroke-width="1.1"/>
<line x1="234.00" y1="418.50" x2="234.00" y2="421.70" stroke="#0d5038" stroke-width="1.1"/>
<line x1="237.00" y1="418.50" x2="237.00" y2="421.70" stroke="#0d5038" stroke-width="1.1"/>
<line x1="240.00" y1="418.50" x2="240.00" y2="421.70" stroke="#0d5038" stroke-width="1.1"/>
<line x1="243.00" y1="418.50" x2="243.00" y2="421.70" stroke="#0d5038" stroke-width="1.1"/>
<line x1="246.00" y1="418.50" x2="246.00" y2="421.70" stroke="#0d5038" stroke-width="1.1"/>
<line x1="249.00" y1="418.50" x2="249.00" y2="421.70" stroke="#0d5038" stroke-width="1.1"/>
<line x1="252.00" y1="418.50" x2="252.00" y2="421.70" stroke="#0d5038" stroke-width="1.1"/>
<line x1="255.00" y1="418.50" x2="255.00" y2="421.70" stroke="#0d5038" stroke-width="1.1"/>
<line x1="258.00" y1="418.50" x2="258.00" y2="421.70" stroke="#0d5038" stroke-width="1.1"/>
<line x1="260.00" y1="418.50" x2="260.00" y2="421.70" stroke="#0d5038" stroke-width="1.1"/>
<path d="M123.20,426.20 H127.40 V420.00 H127.80 V416.20 H128.80 V410.50 H129.60 V401.70 H140.40 V391.50 H146.60 V385.40 H164.20 V379.70 H191.70 V373.80 H198.50 V367.50 H227.20 V360.10 H245.60 V352.30 H260.80" fill="none" stroke="#ac0429" stroke-width="1.2" stroke-linejoin="miter"/>
<line x1="138.00" y1="400.20" x2="138.00" y2="404.00" stroke="#ac0429" stroke-width="1.15"/>
<line x1="162.10" y1="383.90" x2="162.10" y2="387.70" stroke="#ac0429" stroke-width="1.15"/>
<line x1="168.00" y1="378.20" x2="168.00" y2="382.00" stroke="#ac0429" stroke-width="1.15"/>
<line x1="179.00" y1="378.20" x2="179.00" y2="382.00" stroke="#ac0429" stroke-width="1.15"/>
<line x1="208.20" y1="366.00" x2="208.20" y2="369.80" stroke="#ac0429" stroke-width="1.15"/>
<line x1="210.70" y1="366.00" x2="210.70" y2="369.80" stroke="#ac0429" stroke-width="1.15"/>
<line x1="230.30" y1="358.60" x2="230.30" y2="362.40" stroke="#ac0429" stroke-width="1.15"/>
<line x1="246.60" y1="350.80" x2="246.60" y2="354.60" stroke="#ac0429" stroke-width="1.15"/>
<line x1="250.40" y1="350.80" x2="250.40" y2="354.60" stroke="#ac0429" stroke-width="1.15"/>
<line x1="259.40" y1="350.80" x2="259.40" y2="354.60" stroke="#ac0429" stroke-width="1.15"/>
<rect x="112.5" y="465.5" width="170.3" height="23.8" fill="none" stroke="#111" stroke-width="1"/>
<text x="96.50" y="475.30" font-size="7.5" text-anchor="end" fill="#231f20" font-weight="normal" stroke="#231f20" stroke-width="0.1" >Number</text>
<text x="93.10" y="484.90" font-size="7.5" text-anchor="end" fill="#231f20" font-weight="normal" stroke="#231f20" stroke-width="0.1" >at risk</text>
<line x1="100.20" y1="470.30" x2="109.70" y2="470.30" stroke="#ac0429" stroke-width="1.3"/>
<line x1="104.95" y1="468.60" x2="104.95" y2="473.30" stroke="#ac0429" stroke-width="1.2"/>
<line x1="100.20" y1="483.40" x2="109.70" y2="483.40" stroke="#0d5038" stroke-width="1.3"/>
<line x1="104.95" y1="481.70" x2="104.95" y2="486.40" stroke="#0d5038" stroke-width="1.2"/>
<text x="123.20" y="473.90" font-size="8.2" text-anchor="middle" fill="#231f20" font-weight="normal" stroke="#231f20" stroke-width="0.1" >31</text>
<text x="123.20" y="486.40" font-size="8.2" text-anchor="middle" fill="#231f20" font-weight="normal" stroke="#231f20" stroke-width="0.1" >312</text>
<text x="146.10" y="473.90" font-size="8.2" text-anchor="middle" fill="#231f20" font-weight="normal" stroke="#231f20" stroke-width="0.1" >21</text>
<text x="146.10" y="486.40" font-size="8.2" text-anchor="middle" fill="#231f20" font-weight="normal" stroke="#231f20" stroke-width="0.1" >230</text>
<text x="168.99" y="473.90" font-size="8.2" text-anchor="middle" fill="#231f20" font-weight="normal" stroke="#231f20" stroke-width="0.1" >17</text>
<text x="168.99" y="486.40" font-size="8.2" text-anchor="middle" fill="#231f20" font-weight="normal" stroke="#231f20" stroke-width="0.1" >175</text>
<text x="191.89" y="473.90" font-size="8.2" text-anchor="middle" fill="#231f20" font-weight="normal" stroke="#231f20" stroke-width="0.1" >15</text>
<text x="191.89" y="486.40" font-size="8.2" text-anchor="middle" fill="#231f20" font-weight="normal" stroke="#231f20" stroke-width="0.1" >135</text>
<text x="214.78" y="473.90" font-size="8.2" text-anchor="middle" fill="#231f20" font-weight="normal" stroke="#231f20" stroke-width="0.1" >12</text>
<text x="214.78" y="486.40" font-size="8.2" text-anchor="middle" fill="#231f20" font-weight="normal" stroke="#231f20" stroke-width="0.1" >96</text>
<text x="237.68" y="473.90" font-size="8.2" text-anchor="middle" fill="#231f20" font-weight="normal" stroke="#231f20" stroke-width="0.1" >10</text>
<text x="237.68" y="486.40" font-size="8.2" text-anchor="middle" fill="#231f20" font-weight="normal" stroke="#231f20" stroke-width="0.1" >75</text>
<text x="260.58" y="473.90" font-size="8.2" text-anchor="middle" fill="#231f20" font-weight="normal" stroke="#231f20" stroke-width="0.1" >6</text>
<text x="260.58" y="486.40" font-size="8.2" text-anchor="middle" fill="#231f20" font-weight="normal" stroke="#231f20" stroke-width="0.1" >54</text>
<text x="299.60" y="280.60" font-size="12" text-anchor="start" fill="#000" font-weight="bold" stroke="#000" stroke-width="0.3">D</text>
<rect x="345.00" y="287.70" width="168.20" height="22.00" fill="#0f4c8a"/>
<line x1="345.50" y1="309.70" x2="345.50" y2="432.60" stroke="#111" stroke-width="1.0"/>
<line x1="345.00" y1="432.10" x2="512.80" y2="432.10" stroke="#111" stroke-width="1.0"/>
<line x1="342.50" y1="426.30" x2="345.50" y2="426.30" stroke="#111" stroke-width="1.0"/>
<text x="339.20" y="429.00" font-size="8.0" text-anchor="end" fill="#231f20" font-weight="normal" stroke="#231f20" stroke-width="0.1" >0.0</text>
<line x1="342.50" y1="396.76" x2="345.50" y2="396.76" stroke="#111" stroke-width="1.0"/>
<text x="339.20" y="399.46" font-size="8.0" text-anchor="end" fill="#231f20" font-weight="normal" stroke="#231f20" stroke-width="0.1" >0.2</text>
<line x1="342.50" y1="367.22" x2="345.50" y2="367.22" stroke="#111" stroke-width="1.0"/>
<text x="339.20" y="369.92" font-size="8.0" text-anchor="end" fill="#231f20" font-weight="normal" stroke="#231f20" stroke-width="0.1" >0.4</text>
<line x1="342.50" y1="337.68" x2="345.50" y2="337.68" stroke="#111" stroke-width="1.0"/>
<text x="339.20" y="340.38" font-size="8.0" text-anchor="end" fill="#231f20" font-weight="normal" stroke="#231f20" stroke-width="0.1" >0.6</text>
<line x1="343.70" y1="411.53" x2="345.50" y2="411.53" stroke="#111" stroke-width="1.0"/>
<line x1="343.70" y1="381.99" x2="345.50" y2="381.99" stroke="#111" stroke-width="1.0"/>
<line x1="343.70" y1="352.45" x2="345.50" y2="352.45" stroke="#111" stroke-width="1.0"/>
<line x1="343.70" y1="322.91" x2="345.50" y2="322.91" stroke="#111" stroke-width="1.0"/>
<line x1="353.20" y1="432.10" x2="353.20" y2="435.10" stroke="#111" stroke-width="1.0"/>
<text x="353.20" y="446.00" font-size="8.0" text-anchor="middle" fill="#231f20" font-weight="normal" stroke="#231f20" stroke-width="0.1" >0</text>
<line x1="378.44" y1="432.10" x2="378.44" y2="435.10" stroke="#111" stroke-width="1.0"/>
<text x="378.44" y="446.00" font-size="8.0" text-anchor="middle" fill="#231f20" font-weight="normal" stroke="#231f20" stroke-width="0.1" >12</text>
<line x1="403.67" y1="432.10" x2="403.67" y2="435.10" stroke="#111" stroke-width="1.0"/>
<text x="403.67" y="446.00" font-size="8.0" text-anchor="middle" fill="#231f20" font-weight="normal" stroke="#231f20" stroke-width="0.1" >24</text>
<line x1="428.91" y1="432.10" x2="428.91" y2="435.10" stroke="#111" stroke-width="1.0"/>
<text x="428.91" y="446.00" font-size="8.0" text-anchor="middle" fill="#231f20" font-weight="normal" stroke="#231f20" stroke-width="0.1" >36</text>
<line x1="454.14" y1="432.10" x2="454.14" y2="435.10" stroke="#111" stroke-width="1.0"/>
<text x="454.14" y="446.00" font-size="8.0" text-anchor="middle" fill="#231f20" font-weight="normal" stroke="#231f20" stroke-width="0.1" >48</text>
<line x1="479.38" y1="432.10" x2="479.38" y2="435.10" stroke="#111" stroke-width="1.0"/>
<text x="479.38" y="446.00" font-size="8.0" text-anchor="middle" fill="#231f20" font-weight="normal" stroke="#231f20" stroke-width="0.1" >60</text>
<line x1="504.62" y1="432.10" x2="504.62" y2="435.10" stroke="#111" stroke-width="1.0"/>
<text x="504.62" y="446.00" font-size="8.0" text-anchor="middle" fill="#231f20" font-weight="normal" stroke="#231f20" stroke-width="0.1" >72</text>
<line x1="365.82" y1="432.10" x2="365.82" y2="433.90" stroke="#111" stroke-width="1.0"/>
<line x1="391.05" y1="432.10" x2="391.05" y2="433.90" stroke="#111" stroke-width="1.0"/>
<line x1="416.29" y1="432.10" x2="416.29" y2="433.90" stroke="#111" stroke-width="1.0"/>
<line x1="441.53" y1="432.10" x2="441.53" y2="433.90" stroke="#111" stroke-width="1.0"/>
<line x1="466.76" y1="432.10" x2="466.76" y2="433.90" stroke="#111" stroke-width="1.0"/>
<line x1="492.00" y1="432.10" x2="492.00" y2="433.90" stroke="#111" stroke-width="1.0"/>
<text transform="translate(320.80,370.50) rotate(-90) scale(0.778,1)" font-size="9.0" text-anchor="middle" fill="#231f20" stroke="#231f20" stroke-width="0.32">Cumulative incidence of ACS</text>
<text transform="translate(429.00,460.00) scale(0.722,1)" font-size="9.6" text-anchor="middle" fill="#231f20" stroke="#231f20" stroke-width="0.32">Time since diagnosis (months)</text>
<text x="429.80" y="296.80" font-size="9.9" text-anchor="middle" fill="#e4edf8" font-weight="normal" textLength="143.20" lengthAdjust="spacingAndGlyphs" stroke="#e4edf8" stroke-width="0.22">ACS event by <tspan font-style="italic">ASXL1</tspan>, <tspan font-style="italic">DNMT3A</tspan>,</text>
<text x="429.30" y="306.60" font-size="9.9" text-anchor="middle" fill="#e4edf8" font-weight="normal" textLength="129.40" lengthAdjust="spacingAndGlyphs" stroke="#e4edf8" stroke-width="0.22"><tspan font-style="italic">TET2</tspan> or <tspan font-style="italic">JAK2</tspan> mutation status</text>
<text x="380.00" y="321.50" font-size="8.0" text-anchor="start" fill="#231f20" font-weight="normal" stroke="#231f20" stroke-width="0.1" textLength="126.20" lengthAdjust="spacingAndGlyphs" >Estimate % at 72 months (95% CI)</text>
<text x="380.00" y="332.20" font-size="7.6" text-anchor="start" fill="#231f20" font-weight="normal" stroke="#231f20" stroke-width="0.1" >No gene<tspan font-size="5" dy="-3.9" fill="#6a6a6a" stroke="none">mut</tspan></text>
<text x="380.00" y="343.00" font-size="7.6" text-anchor="start" fill="#231f20" font-weight="normal" stroke="#231f20" stroke-width="0.1" >Yes gene<tspan font-size="5" dy="-3.9" fill="#6a6a6a" stroke="none">mut</tspan></text>
<text x="443.40" y="332.20" font-size="7.8" text-anchor="start" fill="#231f20" font-weight="normal" stroke="#231f20" stroke-width="0.1" textLength="40.90" lengthAdjust="spacingAndGlyphs" >9% (4-15%)</text>
<text x="443.40" y="343.00" font-size="7.8" text-anchor="start" fill="#231f20" font-weight="normal" stroke="#231f20" stroke-width="0.1" textLength="40.90" lengthAdjust="spacingAndGlyphs" >9% (5-15%)</text>
<line x1="367.00" y1="329.20" x2="376.70" y2="329.20" stroke="#1c3d6b" stroke-width="1.2"/>
<line x1="367.00" y1="338.90" x2="376.70" y2="338.90" stroke="#c8204e" stroke-width="1.7"/>
<text x="453.60" y="381.00" font-size="6.8" text-anchor="start" fill="#231f20" font-weight="normal" stroke="#231f20" stroke-width="0.1" ><tspan font-style="italic">P</tspan> = .93</text>
<path d="M353.20,425.90 H355.80 V425.20 H360.40 V423.50 H371.30 V422.00 H377.10 V420.30 H399.00 V419.10 H425.80 V417.10 H435.40 V415.20 H450.80 V413.30 H488.30 V412.90 H504.60" fill="none" stroke="#1c3d6b" stroke-width="1.2" stroke-linejoin="miter"/>
<path d="M353.20,426.70 H370.80 V424.40 H372.50 V423.20 H377.70 V421.10 H379.40 V420.30 H392.70 V419.80 H399.00 V419.10 H468.00 V417.10 H475.80 V415.80 H481.50 V414.20 H488.30 V412.90 H504.60" fill="none" stroke="#c8204e" stroke-width="1.5" stroke-linejoin="miter"/>
<rect x="0.5" y="0.5" width="519" height="496" fill="none" stroke="#5c5c5c" stroke-width="1"/>
</svg>
</body></html>
